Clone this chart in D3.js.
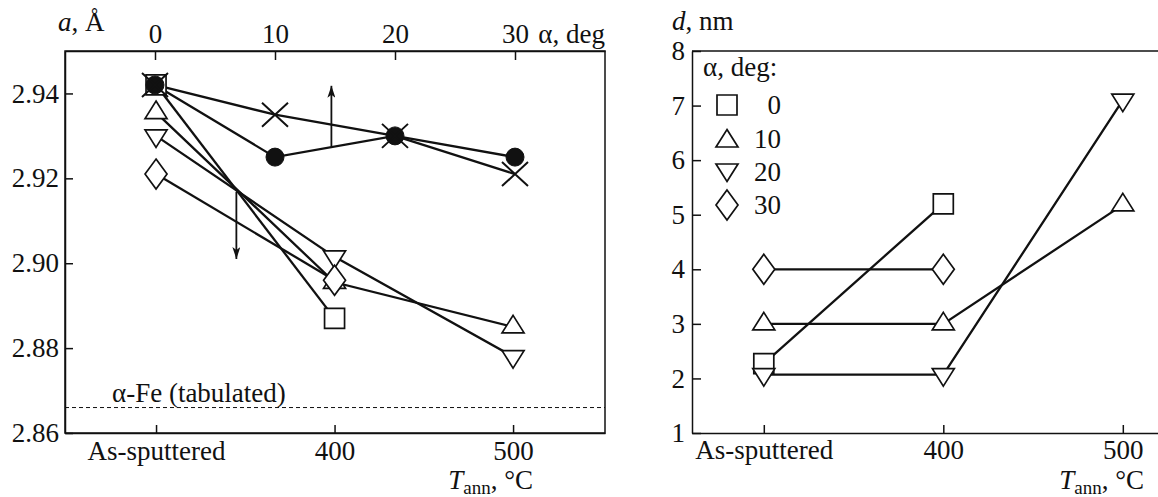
<!DOCTYPE html>
<html>
<head>
<meta charset="utf-8">
<script src="https://cdn.jsdelivr.net/npm/d3@7.9.0/dist/d3.min.js"></script>
<style>
  html, body { margin: 0; padding: 0; background: #fff; }
  svg text { font-family: "Liberation Serif", "Times New Roman", Tinos, "DejaVu Serif", serif; }
  .axis text { font-size: 27px; fill: #111; }
  .axis path, .axis line { stroke: #111; stroke-width: 1.5; }
  .lbl { font-size: 27px; fill: #111; }
</style>
</head>
<body>
<svg id="chart" width="1158" height="497"></svg>
<script>
// temperature categories (both panels)
const tLabels = ['As-sputtered', '400', '500'];

// left panel: lattice parameter a (Å) vs annealing temperature, by alpha
const aSquare   = [2.942, 2.887];          // alpha = 0
const aTriUp    = [2.9355, 2.8955, 2.885]; // alpha = 10
const aTriDown  = [2.930, 2.9015, 2.878];  // alpha = 20
const aDiamond  = [2.921, 2.896];          // alpha = 30

// left panel: a vs alpha (top axis)
const alphaTicks = [0, 10, 20, 30];
const aCircle = [2.942, 2.925, 2.930, 2.925];
const aCross  = [2.942, 2.935, 2.930, 2.921];

const feTabulated = 2.866;
const aTicks = [2.86, 2.88, 2.90, 2.92, 2.94];

// arrows (data units): up arrow on alpha scale, down arrow on T scale
const arrowUp   = { alpha: 14.7, from: 2.9275, to: 2.9418 };
const arrowDown = { t: 0.45, from: 2.9168, to: 2.9010 };

// right panel: grain size d (nm)
const dSquare   = [2.27, 5.2];
const dTriUp    = [3.0, 3.0, 5.18];
const dTriDown  = [2.07, 2.07, 7.1];
const dDiamond  = [4.0, 4.0];
const dTicks = [1, 2, 3, 4, 5, 6, 7, 8];
const legendLabels = ['0', '10', '20', '30'];

const serif = '"Liberation Serif", "Times New Roman", Tinos, "DejaVu Serif", serif';
const svg = d3.select('#chart');
const ink = '#111';

// markers, centred on the data point
function symbolPath(kind) {
  switch (kind) {
    case 'square': return 'M-10,-10H10V10H-10Z';
    case 'triUp': return 'M0,-11.5L11,6L-11,6Z';
    case 'triDown': return 'M0,11.5L11,-6L-11,-6Z';
    case 'diamond': return 'M0,-15L11,0L0,15L-11,0Z';
    case 'cross': return 'M-13,-12L13,12M-13,12L13,-12';
  }
}

function drawMarker(g, kind, x, y) {
  if (kind === 'circle') {
    g.append('circle').attr('cx', x).attr('cy', y).attr('r', 9)
      .attr('fill', ink).attr('stroke', ink).attr('stroke-width', 1);
    return;
  }
  g.append('path')
    .attr('d', symbolPath(kind))
    .attr('transform', `translate(${x},${y})`)
    .attr('fill', kind === 'cross' ? 'none' : '#fff')
    .attr('stroke', ink)
    .attr('stroke-width', kind === 'cross' ? 2 : 1.7);
}

function series(g, values, xs, ys, kind) {
  const pts = values.map((v, i) => [xs(i), ys(v)]);
  g.append('path')
    .attr('d', d3.line()(pts))
    .attr('fill', 'none').attr('stroke', ink).attr('stroke-width', 2.3);
  return () => pts.forEach(p => drawMarker(g, kind, p[0], p[1]));
}

svg.append('defs').append('marker')
  .attr('id', 'head').attr('viewBox', '0 0 12 8')
  .attr('refX', 12).attr('refY', 4)
  .attr('markerWidth', 12).attr('markerHeight', 8)
  .attr('markerUnits', 'userSpaceOnUse')
  .attr('orient', 'auto')
  .append('path').attr('d', 'M0,0L12,4L0,8L3,4Z').attr('fill', ink);

function styleAxis(g) {
  g.attr('font-family', serif).attr('font-size', 27);
}

// ---------------- left panel ----------------
const L = { left: 65, right: 605, top: 51, bottom: 433 };
const xT = d3.scaleLinear().domain([-0.51, 2.515]).range([L.left, L.right]);
const xA = d3.scaleLinear().domain([-7.5, 37.5]).range([L.left, L.right]);
const yA = d3.scaleLinear().domain([2.86, 2.95]).range([L.bottom, L.top]);

const gl = svg.append('g');

gl.append('g').attr('class', 'axis')
  .attr('transform', `translate(${L.left},0)`)
  .call(d3.axisLeft(yA).tickValues(aTicks).tickFormat(d3.format('.2f'))
    .tickSizeInner(-8).tickSizeOuter(0).tickPadding(6))
  .call(styleAxis);

gl.append('g').attr('class', 'axis')
  .attr('transform', `translate(0,${L.bottom})`)
  .call(d3.axisBottom(xT).tickValues([0, 1, 2]).tickFormat(i => tLabels[i])
    .tickSizeInner(-8).tickSizeOuter(0).tickPadding(8))
  .call(styleAxis);

gl.append('g').attr('class', 'axis')
  .attr('transform', `translate(0,${L.top})`)
  .call(d3.axisTop(xA).tickValues(alphaTicks)
    .tickSizeInner(-9).tickSizeOuter(0).tickPadding(8))
  .call(styleAxis);

gl.append('rect')
  .attr('x', L.left).attr('y', L.top)
  .attr('width', L.right - L.left).attr('height', L.bottom - L.top)
  .attr('fill', 'none').attr('stroke', ink).attr('stroke-width', 1.5);

gl.append('line')
  .attr('x1', L.left).attr('x2', L.right)
  .attr('y1', yA(feTabulated)).attr('y2', yA(feTabulated))
  .attr('stroke', ink).attr('stroke-width', 1).attr('stroke-dasharray', '4,3');
gl.append('text').attr('class', 'lbl')
  .attr('x', 112).attr('y', yA(feTabulated) - 6)
  .text('α-Fe (tabulated)');

const xAi = i => xA(alphaTicks[i]);
const pend = [];
pend.push(series(gl, aSquare, xT, yA, 'square'));
pend.push(series(gl, aTriUp, xT, yA, 'triUp'));
pend.push(series(gl, aTriDown, xT, yA, 'triDown'));
pend.push(series(gl, aDiamond, xT, yA, 'diamond'));
pend.push(series(gl, aCircle, xAi, yA, 'circle'));
pend.push(series(gl, aCross, xAi, yA, 'cross'));

gl.append('line')
  .attr('x1', xA(arrowUp.alpha)).attr('x2', xA(arrowUp.alpha))
  .attr('y1', yA(arrowUp.from)).attr('y2', yA(arrowUp.to))
  .attr('stroke', ink).attr('stroke-width', 1.8).attr('marker-end', 'url(#head)');
gl.append('line')
  .attr('x1', xT(arrowDown.t)).attr('x2', xT(arrowDown.t))
  .attr('y1', yA(arrowDown.from)).attr('y2', yA(arrowDown.to))
  .attr('stroke', ink).attr('stroke-width', 1.8).attr('marker-end', 'url(#head)');

pend.forEach(f => f());

// axis titles
const ta = gl.append('text').attr('class', 'lbl').attr('x', 58).attr('y', 31);
ta.append('tspan').attr('font-style', 'italic').text('a');
ta.append('tspan').text(', Å');

gl.append('text').attr('class', 'lbl').attr('x', 605).attr('y', 43)
  .attr('text-anchor', 'end').text('α, deg');

function tannLabel(g, xEnd) {
  const t = g.append('text').attr('class', 'lbl').attr('x', xEnd).attr('y', 489)
    .attr('text-anchor', 'end');
  t.append('tspan').attr('font-style', 'italic').text('T');
  t.append('tspan').attr('font-size', '19px').attr('dy', 5).text('ann');
  t.append('tspan').attr('dy', -5).text(', °C');
}
tannLabel(gl, 533);

// ---------------- right panel ----------------
const R = { left: 692, right: 1158, top: 51, bottom: 433 };
const xR = d3.scaleLinear().domain([-0.4, 2.196]).range([R.left, R.right]);
const yD = d3.scaleLinear().domain([1, 8]).range([R.bottom, R.top]);

const gr = svg.append('g');

gr.append('g').attr('class', 'axis')
  .attr('transform', `translate(${R.left},0)`)
  .call(d3.axisLeft(yD).tickValues(dTicks).tickFormat(d3.format('d'))
    .tickSizeInner(-9).tickSizeOuter(0).tickPadding(7))
  .call(styleAxis);

gr.append('g').attr('class', 'axis')
  .attr('transform', `translate(0,${R.bottom})`)
  .call(d3.axisBottom(xR).tickValues([0, 1, 2]).tickFormat(i => tLabels[i])
    .tickSizeInner(-8).tickSizeOuter(0).tickPadding(7))
  .call(styleAxis);

gr.append('line')
  .attr('x1', R.left).attr('x2', R.right)
  .attr('y1', R.top).attr('y2', R.top)
  .attr('stroke', ink).attr('stroke-width', 1.5);

const pendR = [];
pendR.push(series(gr, dSquare, xR, yD, 'square'));
pendR.push(series(gr, dTriUp, xR, yD, 'triUp'));
pendR.push(series(gr, dTriDown, xR, yD, 'triDown'));
pendR.push(series(gr, dDiamond, xR, yD, 'diamond'));
pendR.forEach(f => f());

const td = gr.append('text').attr('class', 'lbl').attr('x', 672).attr('y', 30);
td.append('tspan').attr('font-style', 'italic').text('d');
td.append('tspan').text(', nm');

tannLabel(gr, 1144);

// legend
gr.append('text').attr('class', 'lbl').attr('x', 703).attr('y', 76).text('α, deg:');
const legendKinds = ['square', 'triUp', 'triDown', 'diamond'];
const legendRows = [105, 139, 172, 205];
legendKinds.forEach((k, i) => {
  const yy = legendRows[i] + (k === 'triUp' ? 2 : k === 'triDown' ? -2 : 0);
  drawMarker(gr, k, 727, yy);
  gr.append('text').attr('class', 'lbl')
    .attr('x', 781).attr('y', legendRows[i] + 9)
    .attr('text-anchor', 'end').text(legendLabels[i]);
});
</script>
</body>
</html>
